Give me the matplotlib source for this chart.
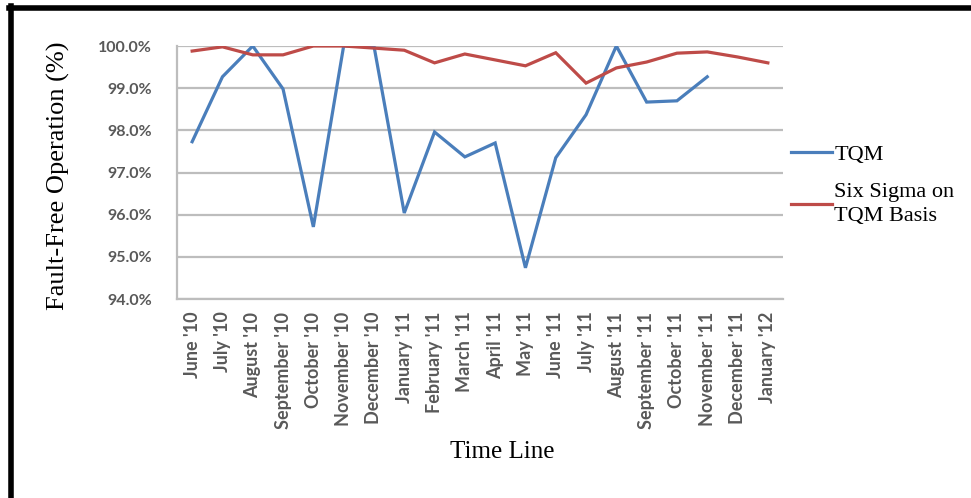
import matplotlib
matplotlib.use('Agg')
import matplotlib.pyplot as plt
import numpy as np
from matplotlib.lines import Line2D
from matplotlib.ticker import FuncFormatter

# === Data ===
months = ["June '10", "July '10", "August '10", "September '10", "October '10",
          "November '10", "December '10", "January '11", "February '11", "March '11",
          "April '11", "May '11", "June '11", "July '11", "August '11",
          "September '11", "October '11", "November '11", "December '11", "January '12"]

tqm = [97.73, 99.27, 100.0, 98.98, 95.71, 100.0, 100.0, 96.04, 97.96, 97.37,
       97.70, 94.74, 97.35, 98.37, 100.0, 98.67, 98.70, 99.27, np.nan, np.nan]

six_sigma = [99.88, 99.98, 99.79, 99.79, 100.0, 100.0, 99.95, 99.90, 99.60, 99.81,
             99.67, 99.53, 99.84, 99.12, 99.48, 99.62, 99.83, 99.86, 99.74, 99.60]

y_ticks = [94, 95, 96, 97, 98, 99, 100]

# === Figure ===
W, H = 971, 498
fig = plt.figure(figsize=(W / 100, H / 100), dpi=100)
ax = fig.add_axes([177 / W, 1 - 299 / H, (783 - 177) / W, (299 - 46) / H])

x = np.arange(len(months))
ax.plot(x, tqm, color='#4A7EBB', lw=2.3, label='TQM', solid_joinstyle='miter')
ax.plot(x, six_sigma, color='#BE4B48', lw=2.3, label='Six Sigma on\nTQM Basis', solid_joinstyle='miter')

ax.set_xlim(-0.5, len(months) - 0.5)
ax.set_ylim(94, 100)
ax.set_yticks(y_ticks)
ax.yaxis.set_major_formatter(FuncFormatter(lambda v, p: f'{v:.1f}%'))
ax.set_xticks(x)
ax.set_xticklabels(months, rotation=90)

ax.grid(axis='y', color='#bdbdbd', lw=1.6)
ax.set_axisbelow(True)
for s in ['top', 'right']:
    ax.spines[s].set_visible(False)
for s in ['left', 'bottom']:
    ax.spines[s].set_color('#bdbdbd')
    ax.spines[s].set_linewidth(1.6)
ax.tick_params(length=0)
ax.tick_params(axis='y', pad=18)
ax.tick_params(axis='x', pad=9)
for lbl in ax.get_yticklabels():
    lbl.set_fontfamily('Lato')
    lbl.set_fontweight('bold')
    lbl.set_color('#595959')
    lbl.set_fontsize(11.5)
for lbl in ax.get_xticklabels():
    lbl.set_fontfamily('Lato')
    lbl.set_fontweight('bold')
    lbl.set_color('#595959')
    lbl.set_fontsize(13)

# === Axis titles ===
fig.text(58 / W, 1 - 176 / H, 'Fault-Free Operation (%)', rotation=90,
         ha='center', va='center', family='Liberation Serif', fontsize=19)
fig.text(502 / W, 1 - 452 / H, 'Time Line', ha='center', va='center',
         family='Liberation Serif', fontsize=18)

# === Legend ===
leg = ax.legend(loc='upper left', bbox_to_anchor=(791 / W, 1 - 144 / H),
                bbox_transform=fig.transFigure, frameon=False,
                prop={'family': 'Liberation Serif', 'size': 16},
                handlelength=1.85, handletextpad=0.1, labelspacing=0.85,
                borderaxespad=0.0, borderpad=0.0)
for t in leg.get_texts():
    t.set_linespacing(1.3)

# === Frame border (black top and left edges) ===
fig.add_artist(Line2D([9 / W, 1], [1 - 8 / H, 1 - 8 / H], color='black', lw=4))
fig.add_artist(Line2D([10.5 / W, 10.5 / W], [0, 1 - 6 / H], color='black', lw=4))

fig.savefig('out.png', dpi=100)
